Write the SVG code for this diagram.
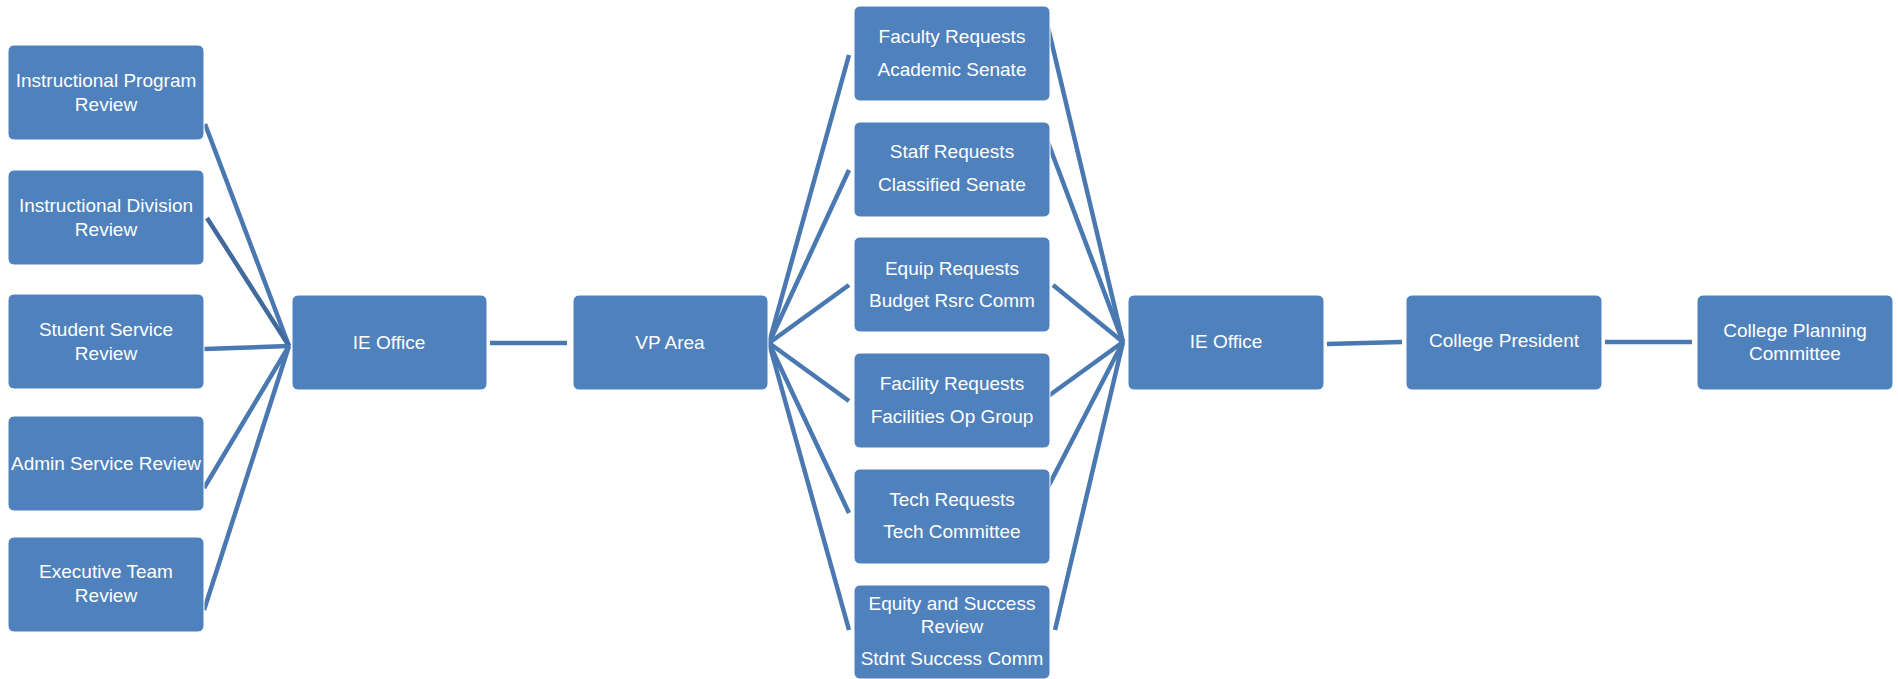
<svg xmlns="http://www.w3.org/2000/svg" width="1898" height="679" viewBox="0 0 1898 679">
<style>
.box{fill:#4f81bd;stroke:#ffffff;stroke-width:1}
.t{font-family:"Liberation Sans",Arial,sans-serif;font-size:19px;fill:#ffffff;text-anchor:middle}
.c{stroke:#4a78b1;stroke-width:4.5;fill:none;stroke-linecap:butt}
</style>
<rect width="1898" height="679" fill="#ffffff"/>
<g id="connectors">
<line class="c" x1="205" y1="124" x2="289" y2="346"/>
<line class="c" x1="207" y1="218" x2="289" y2="346" style="stroke:#41699c"/>
<line class="c" x1="204" y1="349" x2="289" y2="346"/>
<line class="c" x1="204" y1="488" x2="289" y2="346"/>
<line class="c" x1="204" y1="610" x2="289" y2="346"/>
<line class="c" x1="490" y1="343" x2="567" y2="343"/>
<line class="c" x1="769" y1="343" x2="849" y2="55"/>
<line class="c" x1="769" y1="343" x2="849" y2="170"/>
<line class="c" x1="769" y1="343" x2="849" y2="285"/>
<line class="c" x1="769" y1="343" x2="849" y2="401"/>
<line class="c" x1="769" y1="343" x2="849" y2="513"/>
<line class="c" x1="769" y1="343" x2="849" y2="630"/>
<line class="c" x1="1046" y1="19" x2="1123" y2="342"/>
<line class="c" x1="1046" y1="137" x2="1123" y2="342"/>
<line class="c" x1="1053" y1="285" x2="1123" y2="342"/>
<line class="c" x1="1047" y1="397" x2="1123" y2="342"/>
<line class="c" x1="1047" y1="489" x2="1123" y2="342"/>
<line class="c" x1="1055" y1="630" x2="1123" y2="342"/>
<line class="c" x1="1327" y1="344" x2="1402" y2="342"/>
<line class="c" x1="1605" y1="342" x2="1692" y2="342"/>
</g>
<g id="n1"><rect class="box" x="8" y="45" width="196" height="95" rx="6"/><text class="t" x="106" y="87">Instructional Program</text><text class="t" x="106" y="111">Review</text></g>
<g id="n2"><rect class="box" x="8" y="170" width="196" height="95" rx="6"/><text class="t" x="106" y="212">Instructional Division</text><text class="t" x="106" y="236">Review</text></g>
<g id="n3"><rect class="box" x="8" y="294" width="196" height="95" rx="6"/><text class="t" x="106" y="336">Student Service</text><text class="t" x="106" y="360">Review</text></g>
<g id="n4"><rect class="box" x="8" y="416" width="196" height="95" rx="6"/><text class="t" x="106" y="470">Admin Service Review</text></g>
<g id="n5"><rect class="box" x="8" y="537" width="196" height="95" rx="6"/><text class="t" x="106" y="578">Executive Team</text><text class="t" x="106" y="602">Review</text></g>
<g id="ie1"><rect class="box" x="292" y="295" width="195" height="95" rx="6"/><text class="t" x="389" y="349">IE Office</text></g>
<g id="vp"><rect class="box" x="573" y="295" width="195" height="95" rx="6"/><text class="t" x="670" y="349">VP Area</text></g>
<g id="m1"><rect class="box" x="854" y="6" width="196" height="95" rx="6"/><text class="t" x="952" y="43">Faculty Requests</text><text class="t" x="952" y="76">Academic Senate</text></g>
<g id="m2"><rect class="box" x="854" y="122" width="196" height="95" rx="6"/><text class="t" x="952" y="158">Staff Requests</text><text class="t" x="952" y="191">Classified Senate</text></g>
<g id="m3"><rect class="box" x="854" y="237" width="196" height="95" rx="6"/><text class="t" x="952" y="275">Equip Requests</text><text class="t" x="952" y="307">Budget Rsrc Comm</text></g>
<g id="m4"><rect class="box" x="854" y="353" width="196" height="95" rx="6"/><text class="t" x="952" y="390">Facility Requests</text><text class="t" x="952" y="423">Facilities Op Group</text></g>
<g id="m5"><rect class="box" x="854" y="469" width="196" height="95" rx="6"/><text class="t" x="952" y="506">Tech Requests</text><text class="t" x="952" y="538">Tech Committee</text></g>
<g id="m6"><rect class="box" x="854" y="585" width="196" height="94" rx="6"/><text class="t" x="952" y="610">Equity and Success</text><text class="t" x="952" y="633">Review</text><text class="t" x="952" y="665">Stdnt Success Comm</text></g>
<g id="ie2"><rect class="box" x="1128" y="295" width="196" height="95" rx="6"/><text class="t" x="1226" y="348">IE Office</text></g>
<g id="cp"><rect class="box" x="1406" y="295" width="196" height="95" rx="6"/><text class="t" x="1504" y="347">College President</text></g>
<g id="cpc"><rect class="box" x="1697" y="295" width="196" height="95" rx="6"/><text class="t" x="1795" y="337">College Planning</text><text class="t" x="1795" y="360">Committee</text></g>
</svg>
